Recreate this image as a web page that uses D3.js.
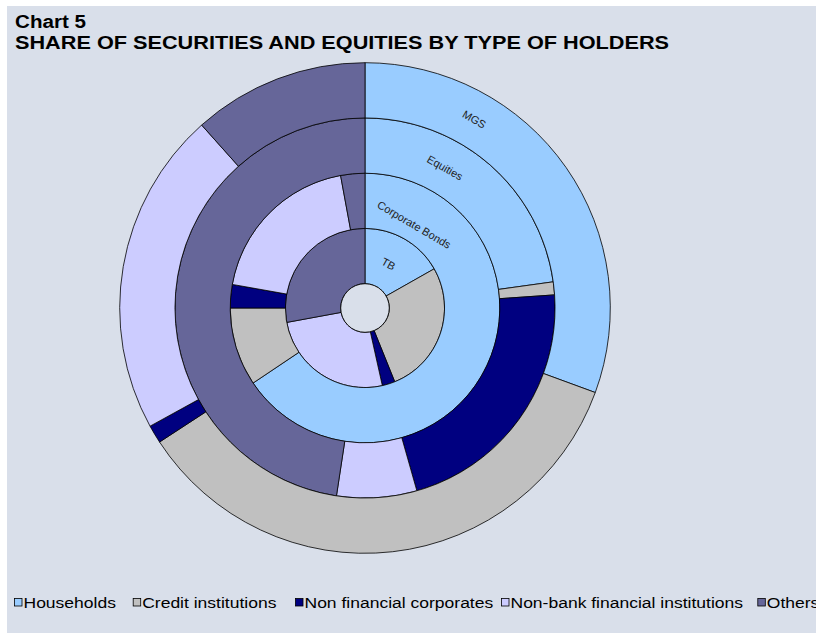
<!DOCTYPE html>
<html>
<head>
<meta charset="utf-8">
<script src="https://cdn.jsdelivr.net/npm/d3@7"></script>
<style>
  html, body { margin: 0; padding: 0; background: #ffffff; }
  svg { display: block; }
</style>
</head>
<body>
<svg id="chart" width="816" height="633"></svg>
<script>
// ---------------- data ----------------
const categories = ["Households", "Credit institutions", "Non financial corporates", "Non-bank financial institutions", "Others"];
const rings = ["TB", "Corporate Bonds", "Equities", "MGS"];           // inner -> outer
const tb = [16.8, 27.1, 2.6, 25.6, 27.9];
const corporateBonds = [65.6, 9.4, 2.8, 19.3, 2.9];
const equities = [22.8, 1.1, 21.7, 6.8, 47.6];
const mgs = [30.6, 35.2, 1.2, 21.4, 11.6];
const titleLines = ["Chart 5", "SHARE OF SECURITIES AND EQUITIES BY TYPE OF HOLDERS"];

// ---------------- style / layout ----------------
const seriesValues = [tb, corporateBonds, equities, mgs];
const colors = ["#99CCFF", "#C0C0C0", "#000080", "#CCCCFF", "#666699"];
const bg = "#D9DFEA";
const W = 816, H = 633;
const cx = 365, cy = 308;
const holeR = 24.3, outerR = 245.3;

const svg = d3.select("#chart");

// background (chart area)
svg.append("rect").attr("x", 7).attr("y", 6).attr("width", W - 7).attr("height", H - 6).attr("fill", bg);

// title
const titleG = svg.append("g").attr("font-family", "'Liberation Sans', Arial, sans-serif")
  .attr("font-weight", "bold").attr("font-size", 18).attr("fill", "#000");
const titleBase = [28.3, 49];
const titleWidth = [71, 654];
titleLines.forEach((t, i) => {
  titleG.append("text").attr("x", 15).attr("y", titleBase[i]).text(t)
    .attr("textLength", titleWidth[i]).attr("lengthAdjust", "spacingAndGlyphs");
});

// rings
const color = d3.scaleOrdinal().domain(categories).range(colors);
const ringScale = d3.scaleBand().domain(rings).range([holeR, outerR]).paddingInner(0).paddingOuter(0);
const pie = d3.pie().sort(null).value(d => d.value).startAngle(0).endAngle(2 * Math.PI);

const chartG = svg.append("g").attr("transform", `translate(${cx},${cy})`);

rings.forEach((ring, ri) => {
  const vals = seriesValues[ri].map((v, i) => ({ cat: categories[i], value: v }));
  const arc = d3.arc().innerRadius(ringScale(ring)).outerRadius(ringScale(ring) + ringScale.bandwidth());
  chartG.append("g").selectAll("path")
    .data(pie(vals))
    .join("path")
    .attr("d", arc)
    .attr("fill", d => color(d.data.cat))
    .attr("stroke", "#000")
    .attr("stroke-width", 0.8)
    .attr("stroke-linejoin", "round");
});

// hole
chartG.append("circle").attr("r", holeR).attr("fill", bg).attr("stroke", "#000").attr("stroke-width", 0.9);

// ring labels (series names), rotated along ring
const labelAngle = [28, 30.5, 29.7, 30.1];
const labelROffset = [-2, -10.5, -1, 0.3];
rings.forEach((ring, ri) => {
  const r = ringScale(ring) + ringScale.bandwidth() / 2 + labelROffset[ri];
  const a = labelAngle[ri] * Math.PI / 180;
  const x = r * Math.sin(a), y = -r * Math.cos(a);
  chartG.append("text")
    .attr("transform", `translate(${x},${y}) rotate(${labelAngle[ri]})`)
    .attr("text-anchor", "middle")
    .attr("dy", "0.35em")
    .attr("font-family", "'Liberation Sans', Arial, sans-serif")
    .attr("font-size", 11)
    .attr("fill", "#222")
    .text(ring);
});

// legend
const legendX = [14, 132.7, 295, 501, 757.3];
const legG = svg.append("g").attr("font-family", "'Liberation Sans', Arial, sans-serif")
  .attr("font-size", 14).attr("fill", "#000");
categories.forEach((c, i) => {
  legG.append("rect").attr("x", legendX[i] + 0.5).attr("y", 598.5).attr("width", 7.5).attr("height", 7.5)
    .attr("fill", color(c)).attr("stroke", "#000").attr("stroke-width", 0.8);
  const t = legG.append("text").attr("x", legendX[i] + 9.5).attr("y", 607.5).text(c);
  const w = t.node().getComputedTextLength();
  t.attr("textLength", w * 1.25).attr("lengthAdjust", "spacingAndGlyphs");
});
</script>
</body>
</html>
